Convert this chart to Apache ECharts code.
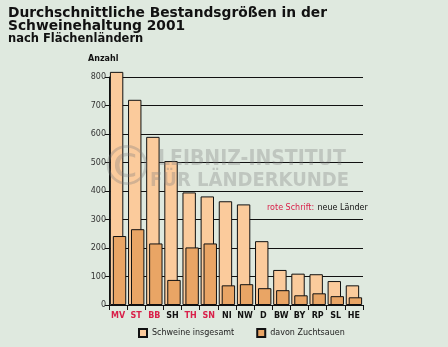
<!DOCTYPE html>
<html><head><meta charset="utf-8">
<script src="https://cdn.jsdelivr.net/npm/echarts@6/dist/echarts.min.js"></script>
<style>html,body{margin:0;padding:0;background:#dfe9df}#c{width:448px;height:347px}</style>
</head><body><div id="c"></div>
<script>
const categories = ['MV','ST','BB','SH','TH','SN','NI','NW','D','BW','BY','RP','SL','HE'];
const newLaender = ['MV','ST','BB','TH','SN'];
const schweineInsgesamt = [818, 720, 590, 505, 395, 381, 364, 353, 224, 123, 110, 108, 84, 69];
const zuchtsauen = [242, 266, 216, 88, 202, 216, 69, 73, 59, 52, 34, 41, 31, 27];
const yTicks = [0, 100, 200, 300, 400, 500, 600, 700, 800];
const seriesNames = ['Schweine insgesamt', 'davon Zuchtsauen'];

const FONT = 'DejaVu Sans';
const WM = 'rgba(125,125,125,0.32)';
const chart = echarts.init(document.getElementById('c'));
chart.setOption({
  backgroundColor: '#dfe9df',
  animation: false,
  textStyle: {fontFamily: FONT},
  grid: {left: 109, right: 85, top: 77, bottom: 42, containLabel: false},
  xAxis: {
    type: 'category', data: categories,
    axisLine: {lineStyle: {color: '#111', width: 1}},
    axisTick: {show: true, length: 5, lineStyle: {color: '#111'}},
    axisLabel: {interval: 0, fontSize: 8, fontWeight: 'bold', fontFamily: FONT, margin: 7,
      color: (v) => newLaender.includes(v) ? '#d9204a' : '#111'}
  },
  yAxis: {
    type: 'value', min: yTicks[0], max: yTicks[yTicks.length-1], interval: 100,
    axisLine: {show: true, lineStyle: {color: '#111'}},
    axisTick: {show: true, length: 4, lineStyle: {color: '#111'}},
    axisLabel: {fontSize: 8, color: '#333', fontFamily: FONT, margin: 3},
    splitLine: {show: true, lineStyle: {color: '#111', width: 1}}
  },
  legend: {
    left: 138, top: 328, padding: 0, itemGap: 22, itemWidth: 8, itemHeight: 8, icon: 'rect',
    textStyle: {fontSize: 8, color: '#222', fontFamily: FONT},
    data: seriesNames
  },
  series: [
    {name: seriesNames[0], type: 'bar', data: schweineInsgesamt, barWidth: 13.4, barGap: '-78%', clip: false,
     itemStyle: {color: '#fbcb9c', borderColor: '#111', borderWidth: 1}},
    {name: seriesNames[1], type: 'bar', data: zuchtsauen, barWidth: 13.4, barGap: '-78%', clip: false,
     itemStyle: {color: '#e9a565', borderColor: '#111', borderWidth: 1}}
  ],
  graphic: [
    {type: 'text', left: 8, top: 6, style: {text: 'Durchschnittliche Bestandsgrößen in der\nSchweinehaltung 2001', font: 'bold 13.8px "DejaVu Sans"', fill: '#111', lineHeight: 13.5}},
    {type: 'text', left: 8, top: 33.5, style: {text: 'nach Flächenländern', font: 'bold 11.5px "DejaVu Sans"', fill: '#111'}},
    {type: 'text', left: 88, top: 55, style: {text: 'Anzahl', font: 'bold 8px "DejaVu Sans"', fill: '#111'}},
    {type: 'text', left: 267, top: 202, z: 10, style: {
      text: '{r|rote Schrift:} {b|neue Länder}',
      rich: {r: {fill: '#d9204a', font: '8px "DejaVu Sans"'}, b: {fill: '#111', font: '8px "DejaVu Sans"'}}}},
    {type: 'text', left: 99, top: 142, z: 20, style: {text: '©', font: '56px "DejaVu Sans"', fill: WM}},
    {type: 'text', left: 158, top: 149, z: 20, style: {text: 'LEIBNIZ-INSTITUT', font: 'bold 21px "DejaVu Sans Condensed"', fill: WM}},
    {type: 'text', left: 150, top: 171, z: 20, style: {text: 'FÜR LÄNDERKUNDE', font: 'bold 20px "DejaVu Sans Condensed"', fill: WM}}
  ]
});
</script></body></html>
